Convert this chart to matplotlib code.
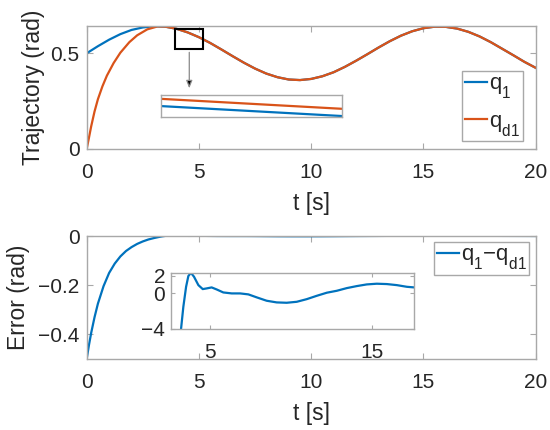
import matplotlib
matplotlib.use("Agg")
import matplotlib.pyplot as plt
from matplotlib.patches import Rectangle

plt.rcParams['font.family'] = ['Liberation Sans', 'DejaVu Sans']
plt.rcParams['mathtext.fontset'] = 'custom'
plt.rcParams['mathtext.rm'] = 'Liberation Sans'
plt.rcParams['mathtext.it'] = 'Liberation Sans'
try:  # lower the subscripts, like TeX-style labels
    import matplotlib._mathtext as _mt
    _mt.FontConstantsBase.sub1 = 0.8
    _mt.FontConstantsBase.sub2 = 0.8
except Exception:
    pass

# ---------------- data ----------------
q1_t = [0.0, 0.5, 1.0, 1.5, 2.0, 2.5, 3.0, 3.5, 4.0, 4.5, 5.0, 5.5, 6.0, 6.5, 7.0,
        7.5, 8.0, 8.5, 9.0, 9.5, 10.0, 10.5, 11.0, 11.5, 12.0, 12.5, 13.0, 13.5,
        14.0, 14.5, 15.0, 15.5, 16.0, 16.5, 17.0, 17.5, 18.0, 18.5, 19.0, 19.5, 20.0]
q1 = [0.500, 0.537, 0.571, 0.600, 0.622, 0.635, 0.641, 0.639, 0.628, 0.609, 0.584,
      0.554, 0.520, 0.485, 0.451, 0.420, 0.394, 0.375, 0.363, 0.360, 0.366, 0.380,
      0.401, 0.429, 0.461, 0.495, 0.530, 0.563, 0.592, 0.615, 0.631, 0.639, 0.638,
      0.629, 0.612, 0.588, 0.558, 0.524, 0.490, 0.455, 0.424]

qd1_early_t = [0.0, 0.1, 0.2, 0.35, 0.5, 0.7, 0.9, 1.2, 1.5, 1.9, 2.25, 2.7, 3.15]
qd1_early = [0.000, 0.058, 0.118, 0.196, 0.260, 0.327, 0.383, 0.449, 0.503, 0.558,
             0.594, 0.625, 0.640]
join_idx = 7  # from t = 3.5 on, q_d1 coincides with q_1

# zoomed window of the top inset
zoom_t = [4.50, 4.60]
zoom_q1 = [0.6090, 0.6046]
zoom_qd1 = [0.6122, 0.6078]

# tracking error (rad)
err_t = [0.0, 0.1, 0.2, 0.35, 0.5, 0.75, 1.0, 1.25, 1.5, 1.75, 2.0, 2.25, 2.5, 2.75,
         3.0, 3.21, 3.35, 3.52, 3.66, 3.82, 4.01, 4.28, 4.55, 4.8, 5.1, 5.41, 5.82,
         6.34, 6.86, 7.37, 7.89, 8.5, 9.12, 9.74, 10.36, 10.98, 11.6, 12.22, 12.84,
         13.45, 14.07, 14.69, 15.31, 15.93, 16.55, 17.17, 17.63, 18.5, 19.5, 20.0]
err = [-0.500, -0.444, -0.394, -0.330, -0.275, -0.204, -0.150, -0.112, -0.083, -0.061,
       -0.045, -0.032, -0.022, -0.014, -0.0082, -0.0040, -0.00152, 0.00075, 0.00197,
       0.00234, 0.00189, 0.00094, 0.00049, 0.00057, 0.00068, 0.00045, 0.00011, 0.0,
       0.0, -0.00011, -0.00045, -0.00083, -0.00102, -0.00106, -0.00095, -0.00065,
       -0.00027, 0.00008, 0.00030, 0.00060, 0.00083, 0.00102, 0.00110, 0.00106,
       0.00094, 0.00075, 0.00068, 0.00050, 0.00030, 0.00020]
inset_scale = 1000.0

x_ticks = [0, 5, 10, 15, 20]
top_yticks = [0, 0.5]
top_ylabels = ['0', '0.5']
bot_yticks = [-0.4, -0.2, 0]
bot_ylabels = ['\u22120.4', '\u22120.2', '0']
ins_xticks = [5, 15]
ins_yticks = [-4, 0, 2]
ins_ylabels = ['\u22124', '0', '2']

# ---------------- style ----------------
BLUE = '#0072BD'
ORANGE = '#D95319'
BOX = '#a8a8a8'
TXT = '#262626'
LW = 1.6
TFS = 15
LFS = 16.5
GFS = 16


def style(ax, xpad=10.0, ypad=5.0, length=4):
    for s in ax.spines.values():
        s.set_color(BOX)
        s.set_linewidth(1.0)
    ax.tick_params(direction='in', top=True, right=True, length=length,
                   width=0.8, color=BOX, labelsize=TFS, labelcolor=TXT)
    ax.tick_params(axis='x', pad=xpad)
    ax.tick_params(axis='y', pad=ypad)


def legend(ax, anchor, spacing):
    lg = ax.legend(loc='upper right', bbox_to_anchor=anchor, fontsize=GFS,
                   frameon=True, fancybox=False, edgecolor=BOX, framealpha=1,
                   handlelength=1.0, handletextpad=0.08, borderpad=0.12,
                   labelspacing=spacing, borderaxespad=0)
    lg.get_frame().set_linewidth(1.0)
    for t in lg.get_texts():
        t.set_color(TXT)
    return lg


fig = plt.figure(figsize=(5.5, 4.3), dpi=100)

# ---------------- top ----------------
ax1 = fig.add_axes([0.1576, 0.6535, 0.8164, 0.2867])
qd1_t = qd1_early_t + q1_t[join_idx:]
qd1 = qd1_early + q1[join_idx:]
ax1.plot(q1_t, q1, color=BLUE, lw=LW, label=r'q$_{1}$')
ax1.plot(qd1_t, qd1, color=ORANGE, lw=LW, label=r'q$_{\mathrm{d1}}$')
ax1.set_xlim(0, 20)
ax1.set_ylim(0, 0.644)
ax1.set_xticks(x_ticks)
ax1.set_yticks(top_yticks, labels=top_ylabels)
style(ax1)
ax1.set_xlabel('t [s]', fontsize=LFS, color=TXT, labelpad=7)
ax1.set_ylabel('Trajectory (rad)', fontsize=LFS, color=TXT, labelpad=4)
ax1.add_patch(Rectangle((3.93, 0.522), 1.24, 0.105, fill=False, ec='k', lw=1.5, zorder=5))
ax1.annotate('', xy=(4.57, 0.317), xytext=(4.57, 0.505),
             arrowprops=dict(arrowstyle='-|>,head_length=0.45,head_width=0.18',
                             ec='#8a8a8a', fc='k', lw=0.9, shrinkA=0, shrinkB=0))
legend(ax1, (0.971, 0.635), 0.45)

ins1 = fig.add_axes([0.2922, 0.7286, 0.3291, 0.0505])
ins1.plot(zoom_t, zoom_q1, color=BLUE, lw=LW)
ins1.plot(zoom_t, zoom_qd1, color=ORANGE, lw=LW)
ins1.set_xlim(zoom_t[0], zoom_t[-1])
ins1.set_ylim(0.6043, 0.6139)
ins1.set_xticks([])
ins1.set_yticks([])
for s in ins1.spines.values():
    s.set_color(BOX)
    s.set_linewidth(1.0)

# ---------------- bottom ----------------
ax2 = fig.add_axes([0.1576, 0.1651, 0.8164, 0.2860])
ax2.plot(err_t, err, color=BLUE, lw=LW, label=r'q$_{1}$$-$q$_{\mathrm{d1}}$')
ax2.set_xlim(0, 20)
ax2.set_ylim(-0.5, 0.0)
ax2.set_xticks(x_ticks)
ax2.set_yticks(bot_yticks, labels=bot_ylabels)
style(ax2)
ax2.set_xlabel('t [s]', fontsize=LFS, color=TXT, labelpad=7)
ax2.set_ylabel('Error (rad)', fontsize=LFS, color=TXT, labelpad=6)
legend(ax2, (0.986, 0.954), 0.45)

ins2 = fig.add_axes([0.3104, 0.2356, 0.4429, 0.1288])
ins2.plot(err_t, [v * inset_scale for v in err], color=BLUE, lw=LW)
ins2.set_xlim(2.57, 17.63)
ins2.set_ylim(-4.0, 2.28)
ins2.set_xticks(ins_xticks)
ins2.set_yticks(ins_yticks, labels=ins_ylabels)
style(ins2, xpad=10.0, ypad=4.0, length=3)

fig.savefig('out.png', dpi=100)
